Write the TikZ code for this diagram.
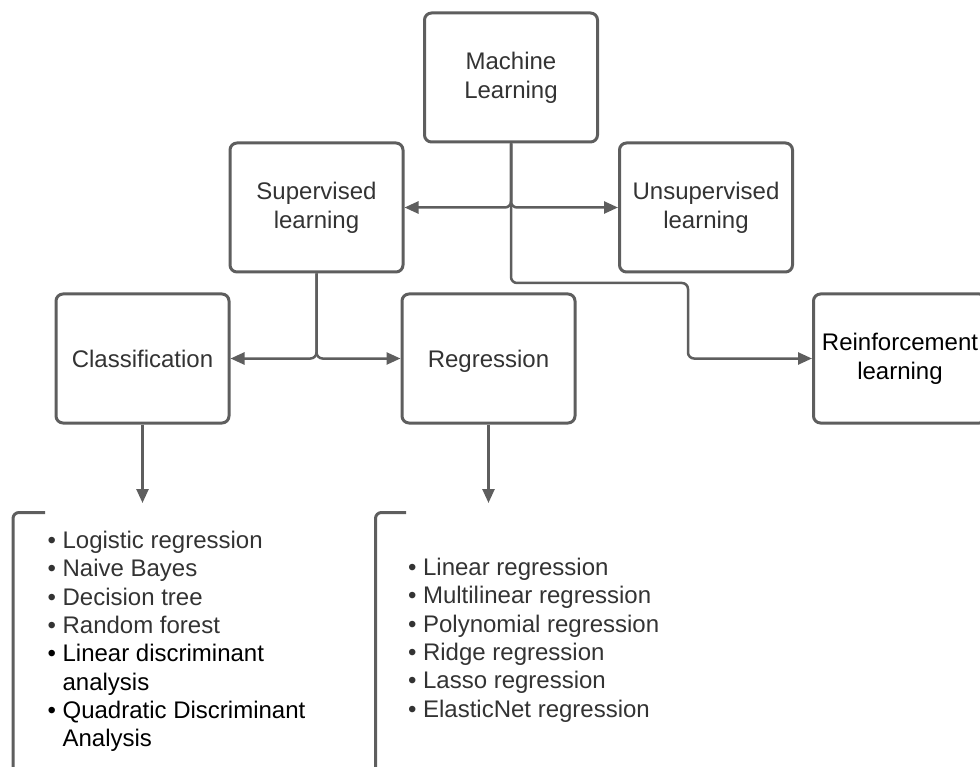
\documentclass[tikz,border=0pt]{standalone}
\usepackage{fontspec}
\setmainfont{Liberation Sans}
\usetikzlibrary{arrows.meta}
\definecolor{edge}{HTML}{5E5E5E}
\definecolor{ink}{HTML}{333333}
\begin{document}
\begin{tikzpicture}[x=1pt,y=-1pt,
  box/.style={draw=edge, line width=3pt, rounded corners=7pt,
    minimum width=173pt, minimum height=129pt, inner sep=0pt,
    align=center, text=ink, font=\fontsize{24}{29}\selectfont},
  oneline/.style={text height=17pt, text depth=0pt},
  link/.style={draw=edge, line width=2.5pt, rounded corners=6pt,
    -{Triangle[length=14pt,width=12pt]}},
  bracket/.style={draw=edge, line width=3pt, rounded corners=6pt},
  itemlist/.style={inner sep=0pt, anchor=base west, text=ink,
    font=\fontsize{24}{28.3}\selectfont}]
\useasboundingbox (0,0) rectangle (980,767);

% category boxes
\node[box] (ml)  at (511,77.5)    {Machine\\Learning};
\node[box] (sup) at (316.5,207.5) {Supervised\\learning};
\node[box] (uns) at (706,207.5)   {Unsupervised\\learning};
\node[box, oneline] (cls) at (142.5,358.5) {Classification};
\node[box, oneline] (reg) at (488.5,358.5) {Regression};
\node[box, text=black] (rl) at (900,358.5) {Reinforcement\\learning};

% branching connectors
\coordinate (bend) at (688,283);
\draw[link] (ml.south) |- (sup.east);
\draw[link] (ml.south) |- (uns.west);
\draw[link] (ml.south) |- (bend) |- (rl.west);
\draw[link] (sup.south) |- (cls.east);
\draw[link] (sup.south) |- (reg.west);

% arrows down to the method lists
\coordinate (clstip) at (142.5,503);
\coordinate (regtip) at (488.5,503);
\draw[link] (cls.south) -- (clstip);
\draw[link] (reg.south) -- (regtip);

% open brackets framing the lists
\draw[bracket] (45,512.5) -- (13,512.5) -- (13,790);
\draw[bracket] (406,512.5) -- (375.5,512.5) -- (375.5,790);

% classification methods
\node[itemlist] (clslist) at (47.5,548.5) {%
  \begin{tabular}[t]{@{}l@{\hspace{6.5pt}}l@{}}
  •&Logistic regression\\
  •&Naive Bayes\\
  •&Decision tree\\
  •&Random forest\\
  \textcolor{black}{•}&\textcolor{black}{Linear discriminant}\\
  &\textcolor{black}{analysis}\\
  \textcolor{black}{•}&\textcolor{black}{Quadratic Discriminant}\\
  &\textcolor{black}{Analysis}
  \end{tabular}};

% regression methods
\node[itemlist] (reglist) at (408,575.5) {%
  \begin{tabular}[t]{@{}l@{\hspace{6.5pt}}l@{}}
  •&Linear regression\\
  •&Multilinear regression\\
  •&Polynomial regression\\
  •&Ridge regression\\
  •&Lasso regression\\
  •&ElasticNet regression
  \end{tabular}};
\end{tikzpicture}
\end{document}
